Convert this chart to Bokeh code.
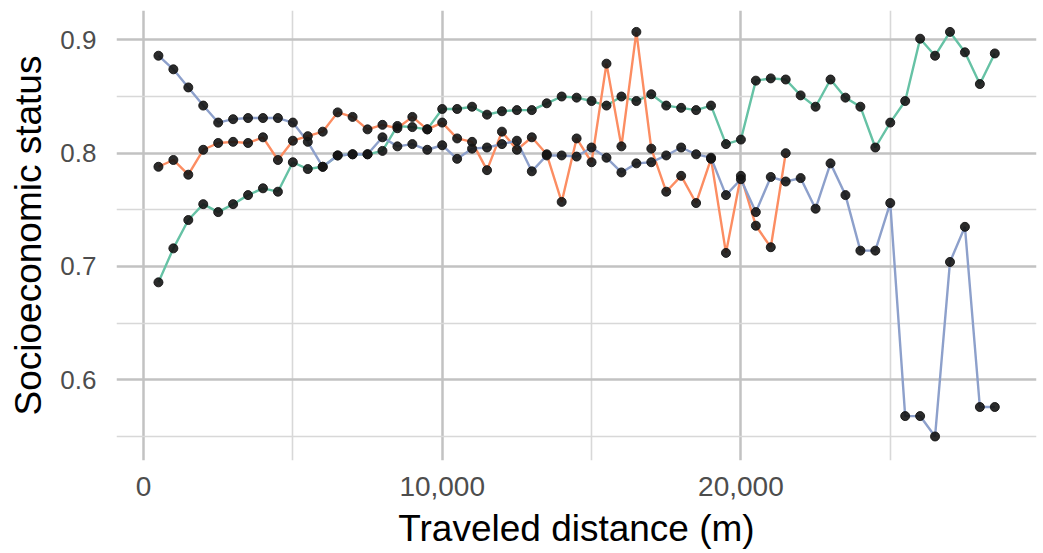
from bokeh.plotting import figure
from bokeh.models import Range1d, FixedTicker, NumeralTickFormatter
from bokeh.embed import file_html
from bokeh.resources import INLINE

# ---- data ----
dist_long = [500, 1000, 1500, 2000, 2500, 3000, 3500, 4000, 4500, 5000,
             5500, 6000, 6500, 7000, 7500, 8000, 8500, 9000, 9500, 10000,
             10500, 11000, 11500, 12000, 12500, 13000, 13500, 14000, 14500, 15000,
             15500, 16000, 16500, 17000, 17500, 18000, 18500, 19000, 19500, 20000,
             20500, 21000, 21500, 22000, 22500, 23000, 23500, 24000, 24500, 25000,
             25500, 26000, 26500, 27000, 27500, 28000, 28500]
dist_short = [500, 1000, 1500, 2000, 2500, 3000, 3500, 4000, 4500, 5000,
              5500, 6000, 6500, 7000, 7500, 8000, 8500, 9000, 9500, 10000,
              10500, 11000, 11500, 12000, 12500, 13000, 13500, 14000, 14500, 15000,
              15500, 16000, 16500, 17000, 17500, 18000, 18500, 19000, 19500, 20000,
              20500, 21000, 21500]

green_ses = [0.686, 0.716, 0.741, 0.755, 0.748, 0.755, 0.763, 0.769, 0.766, 0.792,
             0.786, 0.788, 0.798, 0.799, 0.799, 0.802, 0.824, 0.823, 0.821, 0.839,
             0.839, 0.841, 0.834, 0.837, 0.838, 0.838, 0.844, 0.850, 0.849, 0.846,
             0.842, 0.850, 0.846, 0.852, 0.842, 0.840, 0.838, 0.842, 0.808, 0.812,
             0.864, 0.866, 0.865, 0.851, 0.841, 0.865, 0.849, 0.841, 0.805, 0.827,
             0.846, 0.901, 0.886, 0.907, 0.889, 0.861, 0.888]

orange_ses = [0.788, 0.794, 0.781, 0.803, 0.809, 0.810, 0.809, 0.814, 0.794, 0.811,
              0.815, 0.819, 0.836, 0.832, 0.821, 0.825, 0.822, 0.832, 0.821, 0.827,
              0.813, 0.810, 0.785, 0.819, 0.803, 0.814, 0.799, 0.757, 0.813, 0.792,
              0.879, 0.806, 0.907, 0.804, 0.766, 0.780, 0.756, 0.795, 0.712, 0.780,
              0.736, 0.717, 0.800]

blue_ses = [0.886, 0.874, 0.858, 0.842, 0.827, 0.830, 0.831, 0.831, 0.831, 0.827,
            0.810, 0.788, 0.798, 0.799, 0.799, 0.814, 0.806, 0.808, 0.803, 0.807,
            0.795, 0.804, 0.805, 0.808, 0.811, 0.784, 0.798, 0.798, 0.797, 0.805,
            0.796, 0.783, 0.791, 0.792, 0.798, 0.805, 0.799, 0.796, 0.763, 0.777,
            0.748, 0.779, 0.775, 0.778, 0.751, 0.791, 0.763, 0.714, 0.714, 0.756,
            0.568, 0.568, 0.550, 0.704, 0.735, 0.576, 0.576]

x_major = [0, 10000, 20000]
x_minor = [5000, 15000, 25000]
y_major = [0.6, 0.7, 0.8, 0.9]
y_minor = [0.55, 0.65, 0.75, 0.85]

x_title = "Traveled distance (m)"
y_title = "Socioeconomic status"

series = [
    (dist_long, green_ses, "#66c2a5"),
    (dist_short, orange_ses, "#fc8d62"),
    (dist_long, blue_ses, "#8da0cb"),
]

FONT = "Liberation Sans"

p = figure(width=1043, height=553, output_backend="svg", toolbar_location=None,
           x_range=Range1d(-904, 29896), y_range=Range1d(0.5288, 0.9259),
           min_border_left=116, min_border_right=7, min_border_top=10,
           min_border_bottom=93)
p.outline_line_color = None
p.background_fill_color = "white"
p.border_fill_color = "white"

for xs, ys, col in series:
    p.line(xs, ys, line_color=col, line_width=2.4)
for xs, ys, col in series:
    p.scatter(xs, ys, size=9, fill_color="#141414", line_color="#141414", alpha=0.9)

p.xaxis.ticker = FixedTicker(ticks=x_major, minor_ticks=x_minor)
p.yaxis.ticker = FixedTicker(ticks=y_major, minor_ticks=y_minor)
p.xaxis.formatter = NumeralTickFormatter(format="0,0")
p.yaxis.formatter = NumeralTickFormatter(format="0.0")

for ax in (p.xaxis, p.yaxis):
    ax.axis_line_color = None
    ax.major_tick_line_color = None
    ax.minor_tick_line_color = None
    ax.major_tick_out = 0
    ax.major_tick_in = 0
    ax.minor_tick_out = 0
    ax.minor_tick_in = 0
    ax.major_label_text_font = FONT
    ax.major_label_text_color = "#4d4d4d"
    ax.axis_label_text_font = FONT
    ax.axis_label_text_font_style = "normal"
    ax.axis_label_text_color = "#000000"
    ax.axis_label_text_font_size = "37px"

p.xaxis.major_label_text_font_size = "28px"
p.yaxis.major_label_text_font_size = "26px"
p.xaxis.major_label_standoff = 16
p.yaxis.major_label_standoff = 20
p.xaxis.axis_label = x_title
p.yaxis.axis_label = y_title
p.xaxis.axis_label_standoff = 9
p.yaxis.axis_label_standoff = 8

p.xgrid.grid_line_color = "#c2c2c2"
p.xgrid.grid_line_width = 2.5
p.ygrid.grid_line_color = "#c2c2c2"
p.ygrid.grid_line_width = 2.5
p.xgrid.minor_grid_line_color = "#d8d8d8"
p.xgrid.minor_grid_line_width = 1.6
p.ygrid.minor_grid_line_color = "#d8d8d8"
p.ygrid.minor_grid_line_width = 1.6

open("out.html", "w").write(file_html(p, INLINE))
